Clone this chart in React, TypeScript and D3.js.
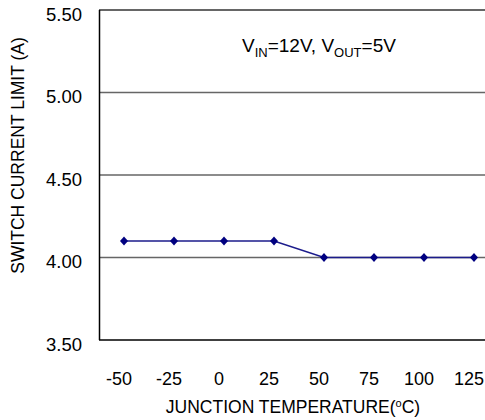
import React from "react";
import * as d3 from "d3";

const temps = ["-50", "-25", "0", "25", "50", "75", "100", "125"];
const currentLimit = [4.1, 4.1, 4.1, 4.1, 4.0, 4.0, 4.0, 4.0];
const yTicks = [3.5, 4.0, 4.5, 5.0, 5.5];

const W = 485;
const H = 420;
const FONT = "'Liberation Sans', Arial, sans-serif";

function diamondPath(hw: number, hh: number) {
  const p = d3.path();
  p.moveTo(0, -hh);
  p.lineTo(hw, 0);
  p.lineTo(0, hh);
  p.lineTo(-hw, 0);
  p.closePath();
  return p.toString();
}

export default function App() {
  const x = d3.scaleBand<string>().domain(temps).range([99, 499]);
  const y = d3.scaleLinear().domain([3.5, 5.5]).range([340, 10]);
  const cx = (t: string) => (x(t) as number) + x.bandwidth() / 2;
  const line = d3
    .line<number>()
    .x((_, i) => cx(temps[i]))
    .y((d) => y(d));
  const diamond = diamondPath(4, 4.6);

  return (
    <svg
      width={W}
      height={H}
      style={{ position: "absolute", left: 0, top: 0, background: "#fff" }}
      fontFamily={FONT}
    >
      {/* gridlines */}
      {yTicks
        .filter((t) => t !== 3.5)
        .map((t) => (
          <line
            key={t}
            x1={99}
            x2={499}
            y1={y(t)}
            y2={y(t)}
            stroke={t === 5.5 ? "#333" : "#666"}
            strokeWidth={1.3}
          />
        ))}
      {/* axes */}
      <line x1={99} x2={499} y1={y(3.5)} y2={y(3.5)} stroke="#000" strokeWidth={1.5} />
      <line x1={99.5} x2={99.5} y1={y(5.5)} y2={y(3.5)} stroke="#000" strokeWidth={1.5} />

      {/* y tick labels */}
      {yTicks.map((t) => (
        <text key={t} x={82} y={y(t) + 10.5} textAnchor="end" fontSize={18.5} fill="#000">
          {d3.format(".2f")(t)}
        </text>
      ))}
      {/* x tick labels */}
      {temps.map((t) => (
        <text key={t} x={cx(t) - 5} y={385} textAnchor="middle" fontSize={18} fill="#000">
          {t}
        </text>
      ))}

      {/* series */}
      <path d={line(currentLimit) as string} fill="none" stroke="#1c1c8c" strokeWidth={1.4} />
      {currentLimit.map((v, i) => (
        <path
          key={i}
          d={diamond}
          transform={`translate(${cx(temps[i])},${y(v)})`}
          fill="#000080"
        />
      ))}

      {/* annotation */}
      <text x={242} y={52} fontSize={19} fill="#000">
        V<tspan fontSize={13} dy={5}>IN</tspan>
        <tspan dy={-5}>=12V, V</tspan>
        <tspan fontSize={13} dy={5}>OUT</tspan>
        <tspan dy={-5}>=5V</tspan>
      </text>

      {/* axis titles */}
      <text x={293} y={413} textAnchor="middle" fontSize={17.5} fill="#000">
        JUNCTION TEMPERATURE(
        <tspan fontSize={11} dy={-6}>o</tspan>
        <tspan dy={6}>C)</tspan>
      </text>
      <text
        transform={`translate(23.5,155.5) rotate(-90)`}
        textAnchor="middle"
        fontSize={17.5}
        fill="#000"
      >
        SWITCH CURRENT LIMIT (A)
      </text>
    </svg>
  );
}
